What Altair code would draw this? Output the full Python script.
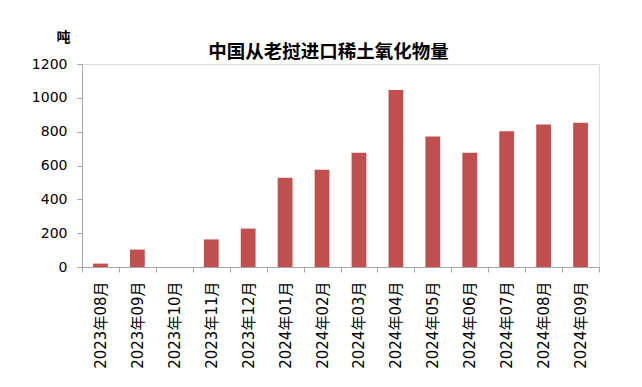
import altair as alt
import pandas as pd

months = ["2023年08月", "2023年09月", "2023年10月", "2023年11月", "2023年12月",
          "2024年01月", "2024年02月", "2024年03月", "2024年04月", "2024年05月",
          "2024年06月", "2024年07月", "2024年08月", "2024年09月"]
tons = [20, 103, 0, 163, 227, 528, 575, 675, 1047, 771, 676, 803, 842, 852]

df = pd.DataFrame({"month": months, "tons": tons})

FONT = "DejaVu Sans, Noto Sans CJK SC"

bars = alt.Chart(df).mark_bar(width=alt.RelativeBandSize(0.4), color="#C0504D").encode(
    x=alt.X("month:N", sort=months,
            scale=alt.Scale(paddingInner=0, paddingOuter=0),
            axis=alt.Axis(title=None, labelAngle=-90, tickBand="extent",
                          labelFont=FONT, labelFontSize=15, labelColor="#000000",
                          labelPadding=9, tickSize=5, domainColor="#A6A6A6",
                          tickColor="#A6A6A6", labelLimit=200)),
    y=alt.Y("tons:Q", scale=alt.Scale(domain=[0, 1200], nice=False),
            axis=alt.Axis(values=[0, 200, 400, 600, 800, 1000, 1200], grid=False,
                          format="d",
                          title="吨", titleAngle=0, titleX=-19, titleY=-27,
                          titleAlign="center", titleBaseline="middle",
                          titleFont="Noto Sans CJK SC", titleFontSize=14,
                          titleFontWeight="bold", titleColor="#000000",
                          labelFont=FONT, labelFontSize=14, labelColor="#000000",
                          labelPadding=10, tickSize=5, domainColor="#A6A6A6",
                          tickColor="#A6A6A6")),
)

chart = bars.properties(
    width=517, height=203,
    title=alt.TitleParams("中国从老挝进口稀土氧化物量", font="Noto Sans CJK SC",
                          fontSize=18.5, fontWeight="bold", color="#000000",
                          anchor="middle", dx=-12, dy=39, offset=8),
    autosize=alt.AutoSizeParams(type="none"),
    padding={"left": 74, "top": 56, "right": 30, "bottom": 110},
).configure_view(stroke=None).configure(background="white")

chart.save("out.html", embed_options={"renderer": "svg", "actions": False})
